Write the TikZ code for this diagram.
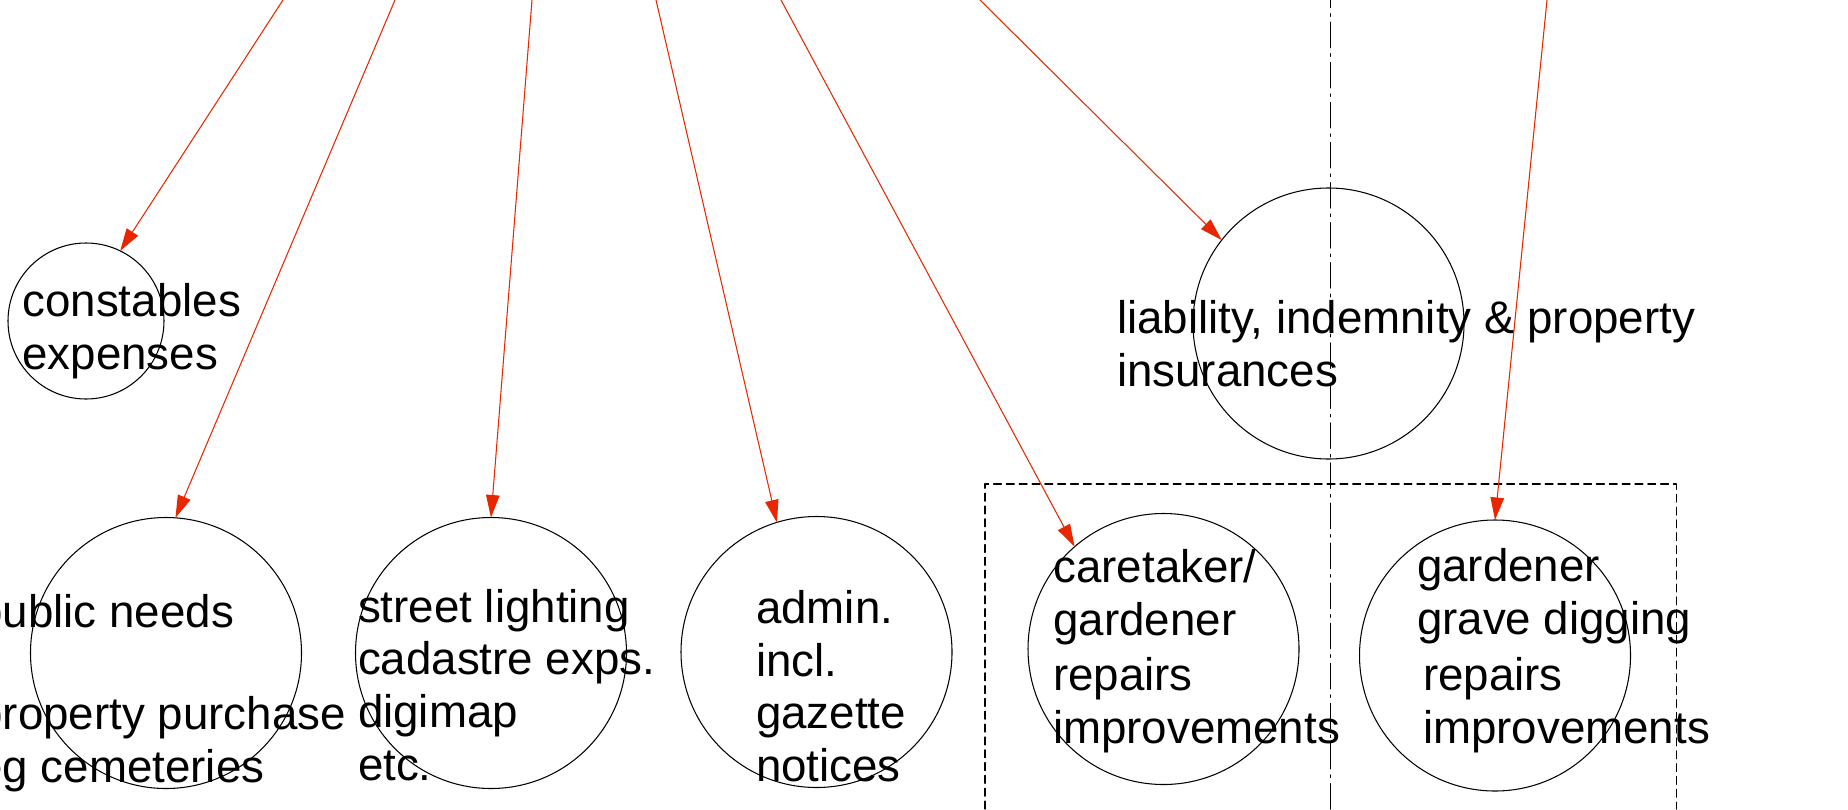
\documentclass[tikz,border=0pt]{standalone}
\usepackage{fontspec}
\setmainfont{Liberation Sans}
\usetikzlibrary{arrows.meta}
\definecolor{linkred}{RGB}{232,38,0}

\begin{document}
\begin{tikzpicture}[line cap=round,line join=round,>={Triangle[length=0.45cm,width=0.27cm]},x=1cm,y=1cm,
  pot/.style={circle,draw,line width=0.6pt,inner sep=0pt,outer sep=0pt,minimum size=5.42cm},
  smallpot/.style={pot,minimum size=3.12cm},
  lbl/.style={anchor=base west,inner sep=0pt,outer sep=0pt,align=left,font=\fontsize{26}{29.9}\selectfont},
  link/.style={->,linkred,line width=0.6pt}]

\useasboundingbox (0,0) rectangle (36.96,16.18);
%%
\draw [line width=0.6pt,dash pattern=on 14.5pt off 3.4pt on 1.5pt off 3.4pt] (26.61,0) -- (26.61,16.18);
\draw [line width=0.6pt,dash pattern=on 4.5pt off 2.8pt] (19.70,0) -- (19.70,6.50) -- (33.52,6.50) -- (33.52,0);
%%
\node [smallpot] (cons) at (1.72,9.76) {};
\node [pot] (pub) at (3.32,3.12) {};
\node [pot] (str) at (9.82,3.12) {};
\node [pot] (adm) at (16.33,3.14) {};
\node [pot] (car) at (23.27,3.20) {};
\node [pot] (lia) at (26.57,9.71) {};
\node [pot] (gar) at (29.90,3.07) {};
%% texts sit on the baseline of their last line
\node [lbl] (consT) at (0.45,8.79) {constables\\expenses};
\node [lbl] (pubA) at (-0.45,3.64) {public needs};
\node [lbl] (pubB) at (-0.45,0.54) {property purchase\\eg cemeteries};
\node [lbl] (strT) at (7.16,0.58) {street lighting\\cadastre exps.\\digimap\\etc.};
\node [lbl] (admT) at (15.12,0.55) {admin.\\incl.\\gazette\\notices};
\node [lbl] (liaT) at (22.34,8.45) {liability, indemnity \& property\\insurances};
\node [lbl] (carA) at (21.07,3.48) {caretaker/\\gardener};
\node [lbl] (carB) at (21.06,1.32) {repairs\\improvements};
\node [lbl] (garA) at (28.34,3.50) {gardener\\grave digging};
\node [lbl] (garB) at (28.46,1.32) {repairs\\improvements};
%%
\coordinate (srcCon) at (5.66,16.18);
\coordinate (srcPub) at (7.90,16.18);
\coordinate (srcStr) at (10.64,16.18);
\coordinate (srcAdm) at (13.12,16.18);
\coordinate (srcCar) at (15.62,16.18);
\coordinate (srcLia) at (19.60,16.18);
\coordinate (srcGar) at (30.94,16.18);
%%
\draw [link] (srcCon) -- (cons.64.5);
\draw [link] (srcPub) -- (pub.86);
\draw [link] (srcStr) -- (str.90);
\draw [link] (srcAdm) -- (adm.107.5);
\draw [link] (srcCar) -- (car.131.5);
\draw [link] (srcLia) -- (lia.142);
\draw [link] (srcGar) -- (gar.90);
%%
\end{tikzpicture}
\end{document}
